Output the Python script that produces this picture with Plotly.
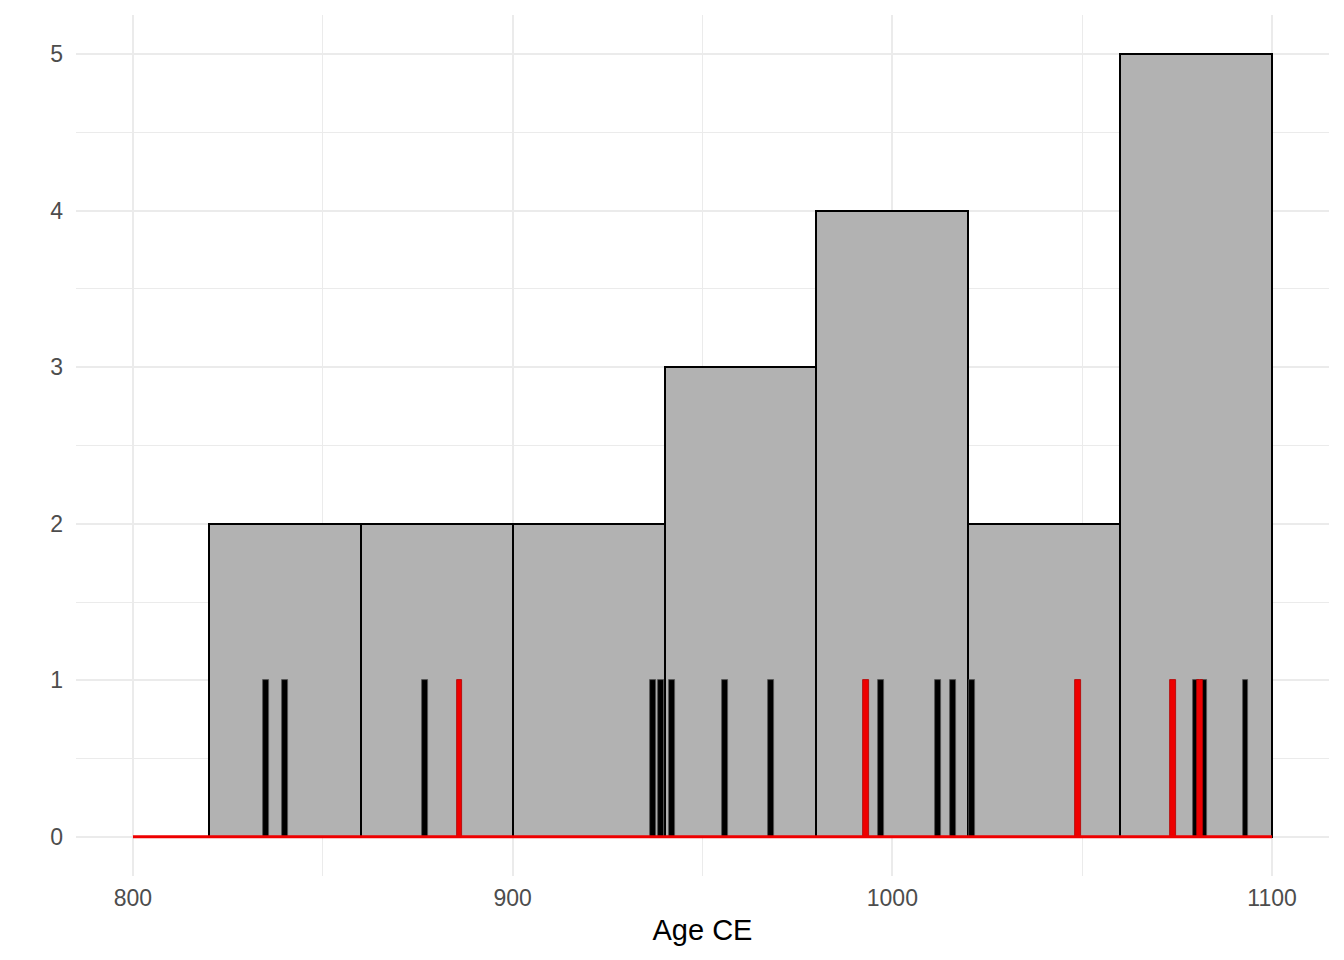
import plotly.graph_objects as go

# ages (CE); black = one group, red = the other
black_ages = [835, 840, 877, 937, 939, 942, 956, 968, 997, 1012, 1016, 1021, 1080, 1082, 1093]
red_ages = [886, 993, 1049, 1074, 1081]
all_ages = black_ages + red_ages

# red baseline drawn along zero
baseline_x = [800, 1100]
baseline_y = [0, 0]

font_family = "Liberation Sans, Arial, sans-serif"

fig = go.Figure()

# 40-year histogram of all ages
fig.add_trace(go.Histogram(
    x=all_ages,
    xbins=dict(start=820, end=1100, size=40),
    marker=dict(color="#B2B2B2", line=dict(color="black", width=2)),
    showlegend=False,
))

# one tick per age, black group
fig.add_trace(go.Bar(
    x=black_ages,
    y=[1] * len(black_ages),
    width=1.55,
    marker=dict(color="black", line=dict(color="#555555", width=0.8)),
    showlegend=False,
))

# red group on top
fig.add_trace(go.Bar(
    x=red_ages,
    y=[1] * len(red_ages),
    width=1.55,
    marker=dict(color="#EE0000", line=dict(color="#B00000", width=0.8)),
    showlegend=False,
))

fig.add_trace(go.Scatter(
    x=baseline_x,
    y=baseline_y,
    mode="lines",
    line=dict(color="#EE0000", width=3),
    showlegend=False,
))

# page body adds 8px, so margins are shifted to compensate
fig.update_layout(
    width=1344,
    height=960,
    barmode="overlay",
    bargap=0,
    plot_bgcolor="white",
    paper_bgcolor="white",
    margin=dict(l=68, r=23, t=7, b=92),
    font=dict(family=font_family),
    xaxis=dict(
        range=[785, 1115],
        tickvals=[800, 900, 1000, 1100],
        automargin=False,
        showgrid=True,
        gridcolor="#EBEBEB",
        gridwidth=2,
        zeroline=False,
        showline=False,
        ticks="",
        tickfont=dict(size=23, color="#4D4D4D"),
        ticklabelstandoff=6,
        minor=dict(tickvals=[850, 950, 1050], showgrid=True, gridcolor="#EBEBEB", gridwidth=1),
        title=dict(text="Age CE", font=dict(size=29, color="black"), standoff=9),
    ),
    yaxis=dict(
        range=[-0.25, 5.25],
        tickvals=[0, 1, 2, 3, 4, 5],
        automargin=False,
        showgrid=True,
        gridcolor="#EBEBEB",
        gridwidth=2,
        zeroline=False,
        showline=False,
        ticks="",
        tickfont=dict(size=23, color="#4D4D4D"),
        ticklabelstandoff=12,
        minor=dict(tickvals=[0.5, 1.5, 2.5, 3.5, 4.5], showgrid=True, gridcolor="#EBEBEB", gridwidth=1),
    ),
)

fig.write_html("out.html")
